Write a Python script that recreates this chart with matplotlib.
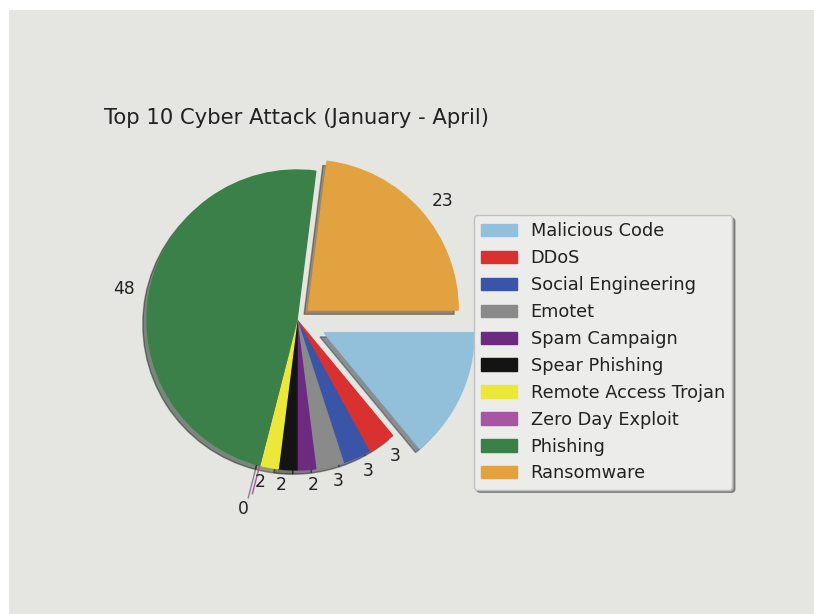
import matplotlib
matplotlib.use("Agg")
import matplotlib.pyplot as plt
from matplotlib.patches import Rectangle

# data
attacks = ["Malicious Code", "DDoS", "Social Engineering", "Emotet", "Spam Campaign",
           "Spear Phishing", "Remote Access Trojan", "Zero Day Exploit", "Phishing", "Ransomware"]
counts = [14, 3, 3, 3, 2, 2, 2, 0, 48, 23]
explode = [0.2, 0, 0, 0, 0, 0, 0, 0.2, 0, 0.1]
colors = ["#92bfda", "#d93030", "#3a55a8", "#8a8a8a", "#6c2a80",
          "#141414", "#ece83a", "#a855a5", "#3a8048", "#e2a23f"]

bg = "#e5e5e2"
fig = plt.figure(figsize=(8.14, 6.14), dpi=100, facecolor="white")
# grey canvas, thin white strip top/left like the screenshot
fig.patches.append(Rectangle((9 / 814, 0), 1, 1 - 10 / 614, transform=fig.transFigure,
                             facecolor=bg, edgecolor="none", zorder=-10))

ax = fig.add_axes([0.1345, 0.1735, 0.4607, 0.6107])
ax.set_facecolor(bg)

wedges, texts = ax.pie(counts, labels=[str(c) for c in counts], colors=colors,
                       explode=explode, shadow=True, startangle=0, counterclock=False,
                       textprops={"fontsize": 12.3, "color": "#222222"})
for w in wedges:
    w.set_edgecolor(w.get_facecolor())
    w.set_linewidth(1)

ax.set_title("Top 10 Cyber Attack (January - April)", fontsize=15.2, color="#222222")
ax.set_aspect("equal")

leg = fig.legend(wedges, attacks, loc="center left", bbox_to_anchor=(0.5712, 0.426),
                 fontsize=12.8, labelspacing=0.5, shadow=True, framealpha=1,
                 facecolor="#ececea", edgecolor="#c0c0c0")
for t in leg.get_texts():
    t.set_color("#222222")

fig.savefig("out.png", dpi=100, facecolor=fig.get_facecolor())
